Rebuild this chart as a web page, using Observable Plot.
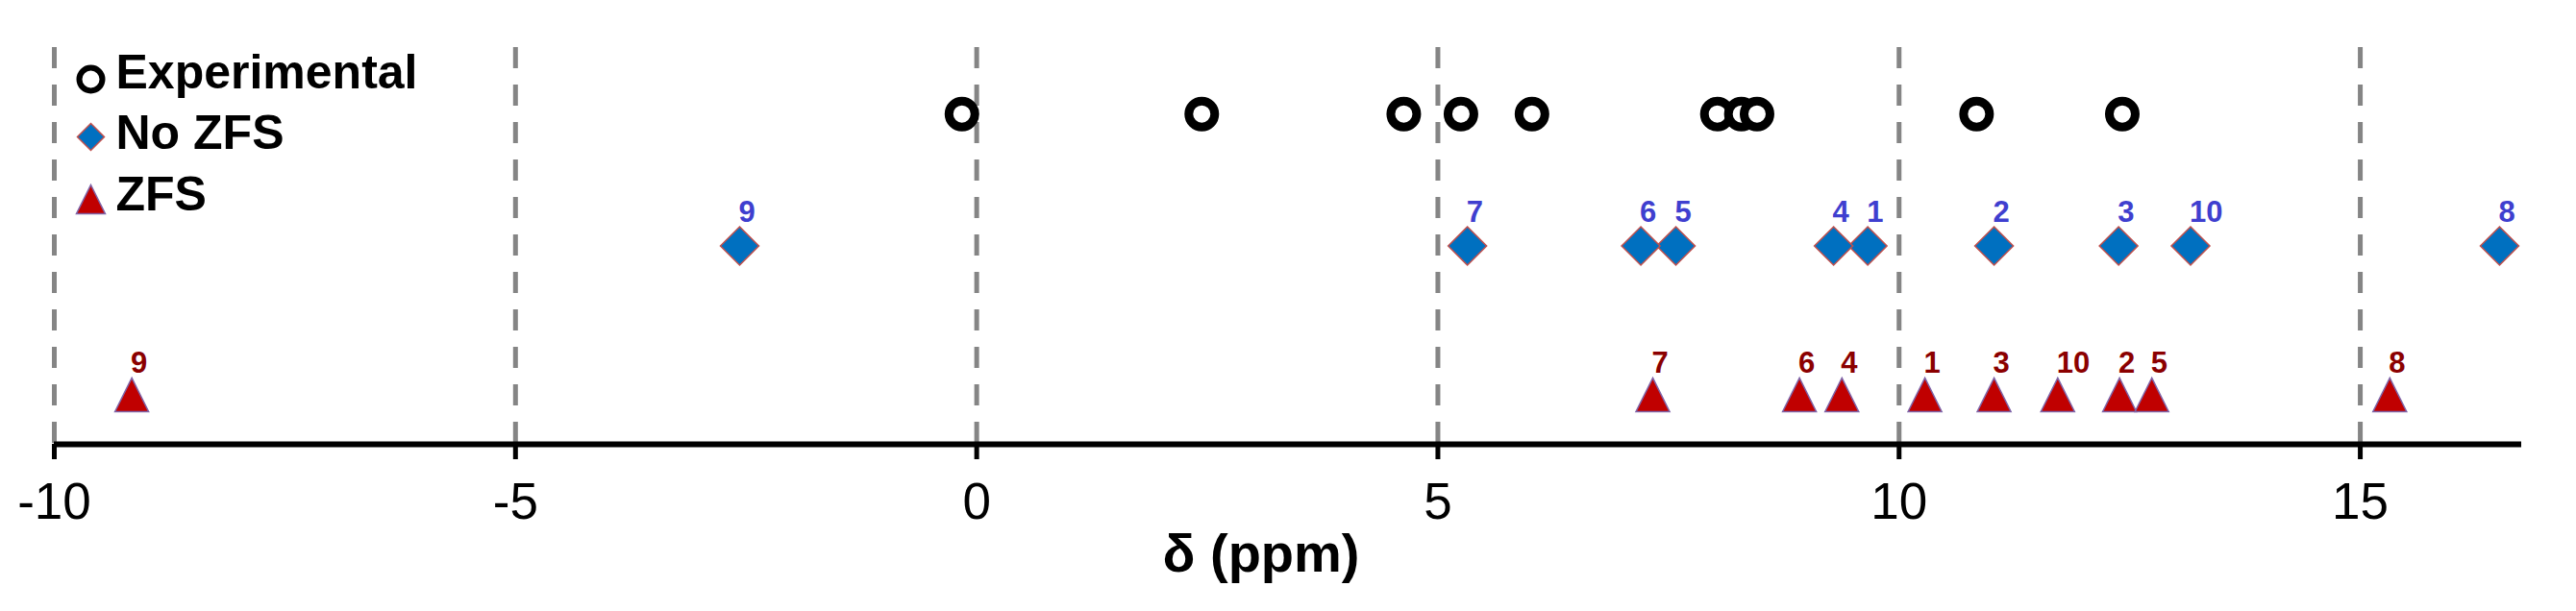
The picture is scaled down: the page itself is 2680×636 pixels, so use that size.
<!DOCTYPE html>
<html>
<head>
<meta charset="utf-8">
<script src="https://cdn.jsdelivr.net/npm/d3@7"></script>
<script src="https://cdn.jsdelivr.net/npm/@observablehq/plot@0.6"></script>
<style>
  html, body { margin: 0; padding: 0; background: #fff; }
  #chart svg { display: block; }
</style>
</head>
<body>
<div id="chart"></div>
<script>
// ---- data ----
const seriesNames = ["Experimental", "No ZFS", "ZFS"];
const rowLevels = [3.33, 2, 0.5];           // vertical level of each series row
const experimental = [-0.16, 2.44, 4.63, 5.25, 6.02, 8.03, 8.29, 8.46, 10.84, 12.42];
const labelIds = [1, 2, 3, 4, 5, 6, 7, 8, 9, 10];
const noZfs = [9.66, 11.03, 12.38, 9.29, 7.58, 7.20, 5.32, 16.51, -2.57, 13.16];
const zfs = [10.28, 12.39, 11.03, 9.38, 12.74, 8.92, 7.33, 15.32, -9.16, 11.72];
const xTicks = [-10, -5, 0, 5, 10, 15];
const xDomain = [-10, 16.75];
const yDomain = [0, 4];

// ---- tables ----
const expRows = experimental.map(v => ({v, row: rowLevels[0]}));
const noZfsRows = noZfs.map((v, i) => ({v, id: labelIds[i], row: rowLevels[1]}));
const zfsRows = zfs.map((v, i) => ({v, id: labelIds[i], row: rowLevels[2]}));

// ---- custom symbols (size = pi r^2) ----
const diamondSym = {draw(ctx, size) {
  const R = Math.sqrt(size / Math.PI);
  ctx.moveTo(0, -R); ctx.lineTo(R, 0); ctx.lineTo(0, R); ctx.lineTo(-R, 0); ctx.closePath();
}};
const triangleSym = {draw(ctx, size) {
  const R = Math.sqrt(size / Math.PI);
  ctx.moveTo(0, -R); ctx.lineTo(R, R); ctx.lineTo(-R, R); ctx.closePath();
}};

const blueFill = "#0070C0", blueEdge = "#C0504D", blueLabel = "#3F3FCF";
const redFill = "#C00000", redEdge = "#7F64A8", redLabel = "#8B0000";

// legend entries
const legendMarks = [];
const legendStyles = [
  {symbol: "circle", r: 12, fill: "white", stroke: "black", strokeWidth: 6, dy: 33},
  {symbol: diamondSym, r: 14, fill: blueFill, stroke: blueEdge, strokeWidth: 1.5, dy: 93},
  {symbol: triangleSym, r: 15, fill: redFill, stroke: redEdge, strokeWidth: 1.5, dy: 158}
];
const legendTextDy = [26, 89, 153];
seriesNames.forEach((name, i) => {
  const s = legendStyles[i];
  legendMarks.push(Plot.dot([name], {frameAnchor: "top-left", dx: 38, dy: s.dy, symbol: s.symbol, r: s.r,
    fill: s.fill, stroke: s.stroke, strokeWidth: s.strokeWidth}));
  legendMarks.push(Plot.text([name], {frameAnchor: "top-left", dx: 64, dy: legendTextDy[i], text: d => d,
    textAnchor: "start", lineAnchor: "middle", fontSize: 50, fontWeight: "bold", fill: "black"}));
});

const chart = Plot.plot({
  width: 2680,
  height: 636,
  marginLeft: 56,
  marginRight: 57,
  marginTop: 49,
  marginBottom: 174,
  style: {fontFamily: "'Liberation Sans', Arial, sans-serif", background: "white", color: "black"},
  x: {domain: xDomain},
  y: {domain: yDomain, axis: null},
  marks: [
    Plot.ruleX(xTicks, {stroke: "#858585", strokeWidth: 5, strokeDasharray: "22,17"}),
    Plot.ruleY([0], {stroke: "black", strokeWidth: 6}),
    Plot.axisX({ticks: xTicks, tickSize: 16, tickPadding: 24, fontSize: 53, strokeWidth: 5,
      tickFormat: d => String(d), label: null}),
    Plot.text(["δ (ppm)"], {frameAnchor: "bottom", dx: -28, dy: 115, text: d => d,
      fontSize: 56, fontWeight: "bold", lineAnchor: "middle"}),
    // series
    Plot.dot(expRows, {x: "v", y: "row", r: 13.5, fill: "white", stroke: "black", strokeWidth: 9}),
    Plot.dot(noZfsRows, {x: "v", y: "row", symbol: diamondSym, r: 20, fill: blueFill, stroke: blueEdge, strokeWidth: 1.5}),
    Plot.text(noZfsRows, {x: "v", y: "row", text: "id", dx: -1, dy: -35, textAnchor: "start", lineAnchor: "middle",
      fontSize: 31, fontWeight: "bold", fill: blueLabel}),
    Plot.dot(zfsRows, {x: "v", y: "row", symbol: triangleSym, r: 17.5, fill: redFill, stroke: redEdge, strokeWidth: 1.5}),
    Plot.text(zfsRows, {x: "v", y: "row", text: "id", dx: -1, dy: -33, textAnchor: "start", lineAnchor: "middle",
      fontSize: 31, fontWeight: "bold", fill: redLabel}),
    ...legendMarks
  ]
});
document.getElementById("chart").appendChild(chart);
</script>
</body>
</html>
